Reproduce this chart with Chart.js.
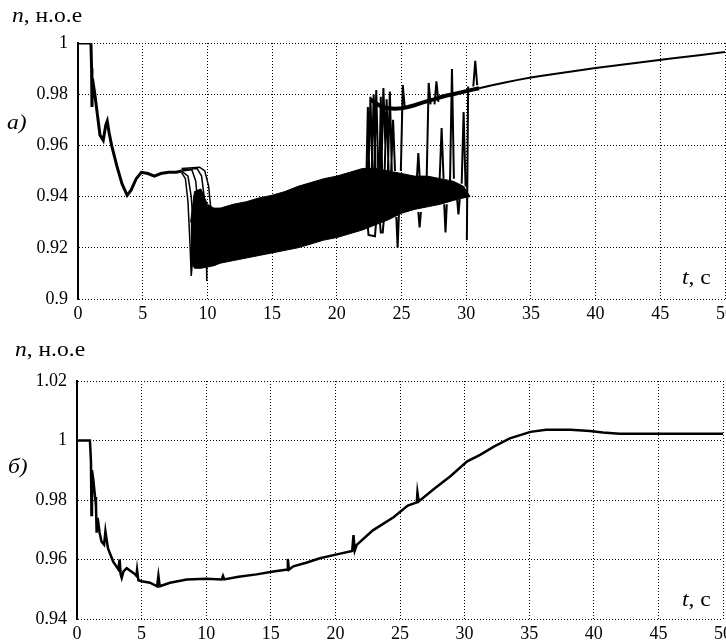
<!DOCTYPE html>
<html>
<head>
<meta charset="utf-8">
<script src="https://cdn.jsdelivr.net/npm/chart.js@4.4.0/dist/chart.umd.min.js"></script>
<style>
  body { margin: 0; background: #fff; }
  #wrap { position: relative; width: 726px; height: 641px; overflow: hidden; font-family: "Liberation Serif", "Times New Roman", serif; }
  canvas { position: absolute; left: 0; }
  .lbl { position: absolute; font-size: 21px; line-height: 1; color: #000; white-space: nowrap; transform: scaleX(1.12); transform-origin: left top; }
</style>
</head>
<body>
<div id="wrap">
  <canvas id="graphA" width="726" height="322" style="top:0"></canvas>
  <canvas id="graphB" width="726" height="319" style="top:322px"></canvas>
  <div class="lbl" style="left:12px;top:5px"><i>n</i>, н.о.е</div>
  <div class="lbl" style="left:7px;top:112px"><i>а)</i></div>
  <div class="lbl" style="left:682px;top:267px"><i>t</i>, с</div>
  <div class="lbl" style="left:15px;top:339px"><i>n</i>, н.о.е</div>
  <div class="lbl" style="left:8px;top:456px"><i>б)</i></div>
  <div class="lbl" style="left:682px;top:589px"><i>t</i>, с</div>
</div>
<script>
// ---- а) common start, plateau ----
var mainT = [0, 1.0, 1.05, 1.08, 1.12, 1.3, 1.5, 1.7, 1.95, 2.15, 2.26, 2.4, 2.6, 3.0, 3.4, 3.8, 4.1, 4.5, 4.9, 5.4, 5.9, 6.4, 7.0, 7.6, 8.0];
var mainN = [1, 1, 0.99, 0.975, 0.986, 0.98, 0.972, 0.964, 0.962, 0.968, 0.9695, 0.965, 0.96, 0.952, 0.945, 0.9405, 0.9425, 0.947, 0.9495, 0.949, 0.948, 0.949, 0.9495, 0.9495, 0.95];

// drops from plateau into the oscillations (several runs)
var dropAT = [8.0, 8.3, 8.5, 8.65, 8.75, 8.85];
var dropAN = [0.9495, 0.947, 0.938, 0.922, 0.909, 0.915];
var dropBT = [8.0, 8.5, 8.75, 8.95, 9.05];
var dropBN = [0.95, 0.948, 0.94, 0.925, 0.915];
var dropCT = [8.0, 8.8, 9.1, 9.3, 9.45];
var dropCN = [0.95, 0.9505, 0.946, 0.935, 0.92];
var dropDT = [8.0, 9.2, 9.55, 9.75, 9.9, 9.95];
var dropDN = [0.9505, 0.951, 0.948, 0.94, 0.925, 0.907];
var dropET = [8.0, 9.4, 9.8, 10.1, 10.25, 10.4];
var dropEN = [0.951, 0.9515, 0.95, 0.944, 0.936, 0.93];

// envelope of the dense oscillation band
var bandT  = [8.7, 9.0, 9.5, 10, 10.5, 11, 12, 13, 14, 15, 16, 17, 18, 19, 20, 21, 22, 23, 24, 25, 26, 27, 28, 29, 29.8, 30.3];
var bandHi = [0.93, 0.942, 0.943, 0.937, 0.9355, 0.9355, 0.937, 0.938, 0.9395, 0.9405, 0.942, 0.944, 0.9455, 0.947, 0.948, 0.9495, 0.951, 0.951, 0.95, 0.949, 0.948, 0.948, 0.947, 0.946, 0.944, 0.94];
var bandLo = [0.915, 0.912, 0.912, 0.9125, 0.913, 0.914, 0.915, 0.916, 0.917, 0.918, 0.919, 0.92, 0.9215, 0.923, 0.924, 0.9255, 0.927, 0.929, 0.931, 0.9335, 0.935, 0.936, 0.937, 0.9385, 0.9395, 0.94];

// runs that recovered, and the tail to 50 s
var recT = [22.6, 23, 23.5, 24, 24.5, 25, 25.5, 26, 26.5, 27, 27.5, 28, 28.5, 29, 29.5, 30, 30.5, 31];
var recN = [0.978, 0.9765, 0.975, 0.9745, 0.9743, 0.9745, 0.975, 0.9757, 0.9765, 0.9773, 0.978, 0.9788, 0.9795, 0.98, 0.9806, 0.9812, 0.9818, 0.9823];
var tailT = [31, 32, 33, 34, 35, 36, 38, 40, 42, 44, 46, 48, 50];
var tailN = [0.9823, 0.9835, 0.9846, 0.9856, 0.9865, 0.9873, 0.9888, 0.9902, 0.9915, 0.9928, 0.994, 0.9952, 0.9965];

// single excursions (null = break)
var spikeT = [22.3, 22.4, 22.5, null, 22.45, 22.6, 22.75, null, 22.7, 22.85, 23.0, null, 22.9, 23.05, 23.2, null,
  23.3, 23.4, 23.5, null, 23.45, 23.6, 23.75, null, 23.7, 23.85, 24.0, null, 23.95, 24.1, 24.25, null,
  24.2, 24.35, 24.5, null, 24.95, 25.1, 25.25, null, 26.2, 26.3, 26.4, null, 26.95, 27.1, 27.25, null,
  27.55, 27.7, 27.85, null, 27.95, 28.1, 28.25, null, 28.75, 28.9, 29.05, null, 29.65, 29.8, 29.95, null,
  30.55, 30.7, 30.85, null, 30.05, 30.15, null, 24.6, 24.7, 24.8, null, 26.3, 26.4, 26.5, null,
  28.3, 28.4, 28.5, null, 29.3, 29.4, 29.5, null, 22.35, 22.45, 22.95, 23.05, null, 23.3, 23.4, 23.55, 23.65];
var spikeN = [0.951, 0.975, 0.951, null, 0.95, 0.979, 0.95, null, 0.95, 0.98, 0.95, null, 0.95, 0.9816, 0.95, null,
  0.95, 0.979, 0.95, null, 0.95, 0.9824, 0.96, null, 0.95, 0.978, 0.95, null, 0.95, 0.981, 0.95, null,
  0.95, 0.97, 0.95, null, 0.95, 0.9836, 0.975, null, 0.948, 0.957, 0.948, null, 0.948, 0.9844, 0.976, null,
  0.976, 0.985, 0.977, null, 0.947, 0.9668, 0.947, null, 0.946, 0.9898, 0.947, null, 0.945, 0.973, 0.944, null,
  0.983, 0.993, 0.9835, null, 0.923, 0.983, null, 0.932, 0.92, 0.933, null, 0.934, 0.928, 0.934, null,
  0.937, 0.926, 0.937, null, 0.939, 0.933, 0.939, null, 0.931, 0.925, 0.9245, 0.931, null, 0.932, 0.926, 0.926, 0.932];

// ---- б) ----
var botT = [0, 1.0, 1.08, 1.12, 1.16, 1.26, 1.4, 1.47, 1.52, 1.6, 1.75, 1.9, 2.1, 2.2, 2.3, 2.4, 2.8, 3.2, 3.3, 3.38, 3.46, 3.6, 3.85, 4.2, 4.5, 4.6, 4.65, 4.75, 5.0, 5.65, 6.2, 6.3, 6.4, 7.2, 8.5, 10, 11.2, 11.3, 11.4, 12.5, 13.9, 15.2, 16.3, 16.32, 16.4, 16.75, 17.8, 18.8, 20.2, 21.3, 21.4, 21.5, 21.65, 22.9, 24.5, 25.6, 26.3, 26.35, 26.45, 27.6, 28.9, 30.2, 31.2, 32.3, 33.5, 35.1, 36.3, 38.2, 39.7, 40.7, 42, 50];
var botN = [1.0, 1.0, 0.993, 0.975, 0.99, 0.9869, 0.981, 0.978, 0.969, 0.974, 0.969, 0.966, 0.965, 0.9695, 0.9665, 0.9637, 0.9593, 0.9567, 0.96, 0.955, 0.9538, 0.956, 0.9571, 0.956, 0.955, 0.9545, 0.9565, 0.953, 0.9527, 0.9522, 0.951, 0.9545, 0.951, 0.9522, 0.9533, 0.9535, 0.9533, 0.9545, 0.9533, 0.9542, 0.955, 0.956, 0.9566, 0.9602, 0.9566, 0.9577, 0.959, 0.9604, 0.9618, 0.9629, 0.9682, 0.963, 0.9649, 0.9698, 0.9742, 0.9781, 0.9792, 0.9825, 0.9795, 0.9836, 0.988, 0.993, 0.9952, 0.998, 1.0007, 1.0029, 1.0036, 1.0036, 1.0032, 1.0027, 1.0023, 1.0023];

var xTicks = [0, 5, 10, 15, 20, 25, 30, 35, 40, 45, 50];

function pts(ts, ns) {
  return ts.map(function (t, i) { return { x: t, y: ns[i] }; });
}

function line(ts, ns, w, extra) {
  var d = { data: pts(ts, ns), borderColor: '#000', backgroundColor: '#000', borderWidth: w, pointRadius: 0, fill: false, tension: 0, spanGaps: false };
  return Object.assign(d, extra || {});
}

var tickFont = { family: 'Liberation Serif', size: 18 };

function makeOptions(yMin, yMax, padTop, padRight, axisW, xAxisH) {
  return {
    responsive: false,
    animation: false,
    events: [],
    layout: { padding: { top: padTop, right: padRight, left: 0, bottom: 0 } },
    plugins: { legend: { display: false }, tooltip: { enabled: false } },
    scales: {
      x: {
        type: 'linear', min: 0, max: 50,
        afterBuildTicks: function (s) { s.ticks = xTicks.map(function (v) { return { value: v }; }); },
        afterFit: function (s) { s.height = xAxisH; s.paddingLeft = 0; s.paddingRight = 0; },
        grid: { color: '#000', lineWidth: 1, drawTicks: false },
        border: { display: false, dash: [1, 2] },
        ticks: { font: tickFont, color: '#000', padding: 4, maxRotation: 0, autoSkip: false }
      },
      y: {
        min: yMin, max: yMax,
        afterFit: function (s) { s.width = axisW; s.paddingTop = 0; s.paddingBottom = 0; },
        grid: { color: '#000', lineWidth: 1, drawTicks: false },
        border: { display: true, color: '#000', width: 2, dash: [1, 2] },
        ticks: {
          stepSize: 0.02, font: tickFont, color: '#000', padding: 10,
          callback: function (v) { return String(+v.toFixed(2)); }
        }
      }
    }
  };
}

const configA = {
  type: 'line',
  data: {
    datasets: [
      line(mainT, mainN, 3),
      line(dropAT, dropAN, 1.5),
      line(dropBT, dropBN, 1.5),
      line(dropCT, dropCN, 1.5),
      line(dropDT, dropDN, 1.5),
      line(dropET, dropEN, 1.5),
      line(recT, recN, 4),
      line(tailT, tailN, 2),
      line(spikeT, spikeN, 2),
      line(bandT, bandHi, 1, { fill: '+1' }),
      line(bandT, bandLo, 1)
    ]
  },
  options: makeOptions(0.9, 1.0, 43, 1, 78, 23)
};

const configB = {
  type: 'line',
  data: {
    datasets: [
      line(botT, botN, 2.5)
    ]
  },
  options: makeOptions(0.94, 1.02, 59, 3, 77, 22)
};

var chartA = new Chart(document.getElementById('graphA'), configA);
var chartB = new Chart(document.getElementById('graphB'), configB);
</script>
</body>
</html>
